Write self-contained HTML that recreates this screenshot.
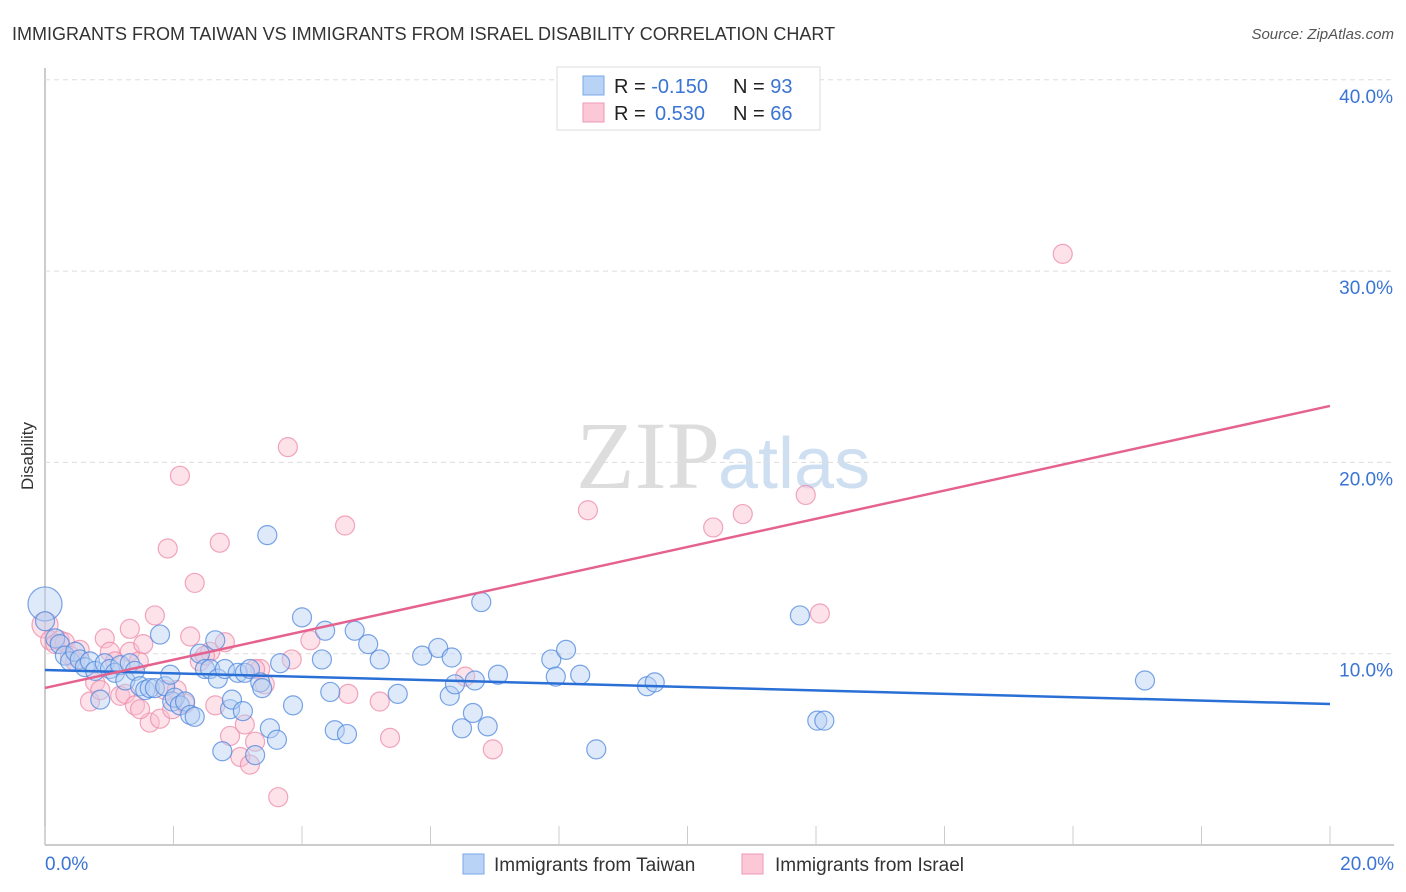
<!DOCTYPE html>
<html><head><meta charset="utf-8">
<style>
body{margin:0;background:#fff;font-family:"Liberation Sans",sans-serif;}
svg{display:block}
</style></head>
<body>
<svg id="chart" width="1406" height="892" xmlns="http://www.w3.org/2000/svg">
<text x="12" y="40" font-size="18" fill="#333">IMMIGRANTS FROM TAIWAN VS IMMIGRANTS FROM ISRAEL DISABILITY CORRELATION CHART</text>
<text x="1394" y="39" font-size="15" fill="#555" font-style="italic" text-anchor="end">Source: ZipAtlas.com</text>
<text x="33" y="456" font-size="17" fill="#333" transform="rotate(-90 33 456)" text-anchor="middle">Disability</text>
<text x="720" y="488" font-size="96" fill="#ddd" text-anchor="end" font-family="Liberation Serif,serif">ZIP</text>
<text x="718" y="488" font-size="72" fill="#cfdff2">atlas</text>
<g id="grid"></g><g id="pts"></g><g id="lines"></g>
<g>
<rect x="557" y="67" width="263" height="63" fill="#fff" stroke="#ddd"/>
<rect x="583" y="76" width="21" height="19" fill="#b8d3f5" stroke="#7aa8e8"/>
<rect x="583" y="103" width="21" height="19" fill="#fcc8d8" stroke="#ee9ab4"/>
<text x="614" y="93" font-size="20" fill="#222">R = <tspan fill="#3a74d4">-0.150</tspan><tspan x="733">N = </tspan><tspan fill="#3a74d4">93</tspan></text>
<text x="614" y="120" font-size="20" fill="#222">R = <tspan fill="#3a74d4" x="655">0.530</tspan><tspan x="733">N = </tspan><tspan fill="#3a74d4">66</tspan></text>
</g>
<g>
<rect x="463" y="854" width="21" height="20" fill="#b8d3f5" stroke="#7aa8e8"/>
<text x="494" y="871" font-size="19" fill="#333">Immigrants from Taiwan</text>
<rect x="742" y="854" width="21" height="20" fill="#fcc8d8" stroke="#ee9ab4"/>
<text x="775" y="871" font-size="19" fill="#333">Immigrants from Israel</text>
</g>
</svg>
<script>
const xTicks=[0,2,4,6,8,10,12,14,16,18,20];
const yTicks=[10,20,30,40];
const taiwanX=[0.0,0.0,0.16,0.23,0.31,0.39,0.47,0.54,0.62,0.7,0.78,0.86,0.93,1.01,1.09,1.17,1.25,1.32,1.4,1.48,1.56,1.63,1.71,1.79,1.87,1.98,1.95,2.02,2.1,2.18,2.26,2.33,2.41,2.49,2.57,2.65,2.69,2.76,2.8,2.88,2.91,3.0,3.08,3.11,3.19,3.27,3.35,3.38,3.46,3.5,3.61,3.66,3.86,4.0,4.31,4.36,4.44,4.51,4.7,4.82,5.03,5.21,5.49,5.87,6.12,6.3,6.33,6.38,6.49,6.66,6.69,6.79,6.89,7.05,7.88,7.95,8.11,8.33,8.58,9.37,9.49,11.75,12.02,12.13,17.12];
const taiwanY=[12.6,11.7,10.8,10.5,9.9,9.6,10.1,9.7,9.3,9.6,9.1,7.6,9.5,9.2,9.0,9.4,8.6,9.5,9.1,8.3,8.1,8.2,8.2,11.0,8.3,7.5,8.9,7.7,7.3,7.5,6.8,6.7,10.0,9.2,9.2,10.7,8.7,4.9,9.2,7.1,7.6,9.0,7.0,9.0,9.2,4.7,8.5,8.2,16.2,6.1,5.5,9.5,7.3,11.9,9.7,11.2,8.0,6.0,5.8,11.2,10.5,9.7,7.9,9.9,10.3,7.8,9.8,8.4,6.1,6.9,8.6,12.7,6.2,8.9,9.7,8.8,10.2,8.9,5.0,8.3,8.5,12.0,6.5,6.5,8.6];
const israelX=[0.0,0.08,0.16,0.23,0.31,0.39,0.47,0.54,0.7,0.78,0.86,0.93,1.01,1.09,1.17,1.25,1.32,1.4,1.46,1.53,1.63,1.71,1.79,1.87,1.91,1.98,2.05,2.1,2.26,2.33,2.41,2.57,2.65,2.72,2.8,2.88,3.04,3.11,3.19,3.27,3.35,3.42,3.63,3.78,3.84,4.13,4.67,4.72,5.21,5.37,6.54,6.97,8.45,10.4,10.86,11.84,12.06,15.84,1.32,1.48,2.18,2.49,3.27];
const israelY=[11.5,10.7,10.5,10.7,10.6,9.9,9.6,10.2,7.5,8.5,8.1,10.8,10.1,9.6,7.8,7.9,10.1,7.3,9.6,10.5,6.4,12.0,6.6,8.1,15.5,7.1,8.1,19.3,10.9,13.7,9.6,10.1,7.3,15.8,10.6,5.7,4.6,6.3,4.2,5.4,9.2,8.4,2.5,20.8,9.7,10.7,16.7,7.9,7.5,5.6,8.8,5.0,17.5,16.6,17.3,18.3,12.1,30.9,11.3,7.1,7.4,9.9,9.2];
const taiwanTrend=[9.15,7.37];
const israelTrend=[8.21,22.95];
const NS="http://www.w3.org/2000/svg";
const X0=45,X1=1330,Y0=845,PY=19.13;
function sx(v){return X0+(v-0)/20*(X1-X0);}
function sy(v){return Y0-v*PY;}
function mk(tag,attrs,parent){const e=document.createElementNS(NS,tag);for(const k in attrs)e.setAttribute(k,attrs[k]);parent.appendChild(e);return e;}
const grid=document.getElementById('grid');
const l1=mk('line',{x1:45,y1:68,x2:45,y2:845,stroke:'#bbb','stroke-width':1.5},grid);


const l2=mk('line',{x1:45,y1:845,x2:1394,y2:845,stroke:'#bbb','stroke-width':1.5},grid);


yTicks.forEach(t=>{
 const g=mk('line',{x1:45,x2:1394,y1:sy(t),y2:sy(t),stroke:'#ddd','stroke-dasharray':'5,4'},grid);
 
 
 const tx=mk('text',{x:1393,y:sy(t)+23,'font-size':19,fill:'#3a74d4','text-anchor':'end'},grid);
 tx.textContent=t.toFixed(1)+'%';
 
 
});
xTicks.forEach(t=>{
 const k=mk('line',{x1:sx(t),x2:sx(t),y1:826,y2:845,stroke:'#ccc'},grid);
 
 
});
[[0,'start',45],[20,'end',1394]].forEach(([v,a,px])=>{
 const tx=mk('text',{x:px,y:870,'font-size':19,fill:'#3a74d4','text-anchor':a},grid);
 tx.textContent=v.toFixed(1)+'%';
 
 
});
const pts=document.getElementById('pts');
function drawSeries(xs,ys,fill,stroke,name){
 xs.forEach((x,i)=>{
  const r=(i===0)?(name==='taiwan-point'?17:13):9.5;
  const c=mk('circle',{cx:sx(x),cy:sy(ys[i]),r:r,fill:fill,'fill-opacity':0.45,stroke:stroke,'stroke-opacity':0.75,'stroke-width':1.2},pts);
  
  
 });
}
drawSeries(israelX,israelY,'#fbbfd0','#ec8aa8','israel-point');
drawSeries(taiwanX,taiwanY,'#b6d0f3','#4f87dc','taiwan-point');
const lines=document.getElementById('lines');
const tl=mk('line',{x1:sx(0),y1:sy(taiwanTrend[0]),x2:sx(20),y2:sy(taiwanTrend[1]),stroke:'#2a6fd6','stroke-width':2.5},lines);


const il=mk('line',{x1:sx(0),y1:sy(israelTrend[0]),x2:sx(20),y2:sy(israelTrend[1]),stroke:'#e5628e','stroke-width':2.5},lines);


</script>
</body></html>
